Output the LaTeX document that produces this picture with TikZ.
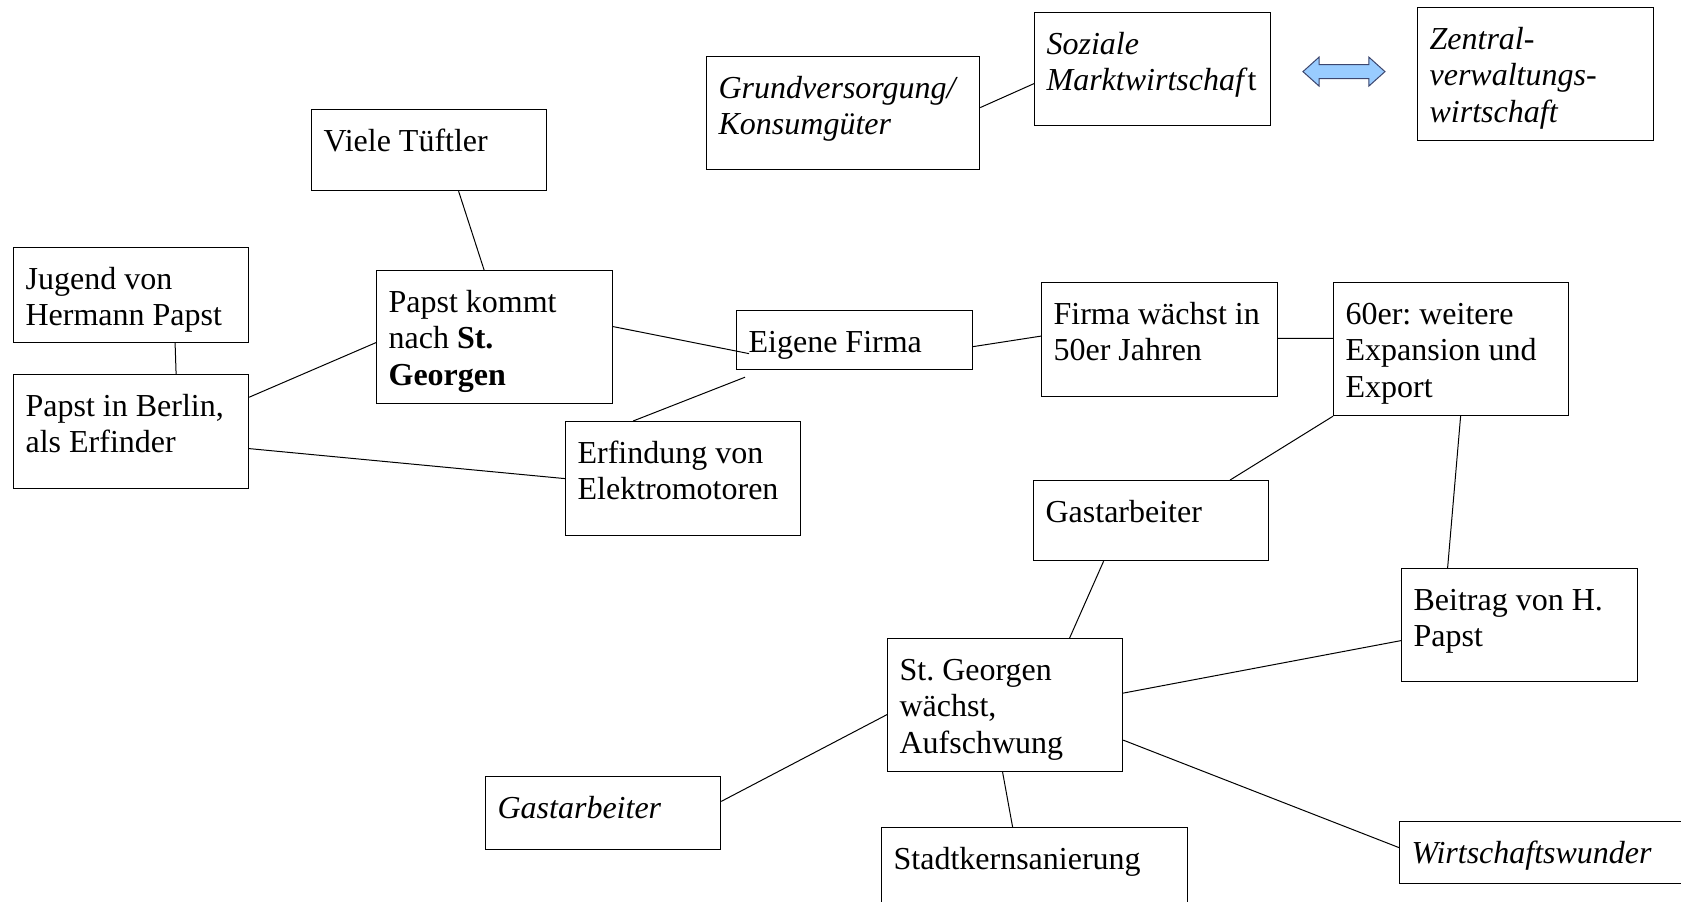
\documentclass[tikz,border=0pt]{standalone}
\usepackage{fontspec}
\setmainfont{Liberation Serif}
\usetikzlibrary{positioning,shapes.arrows}
\definecolor{arrowfill}{RGB}{153,204,255}
\definecolor{arrowline}{RGB}{60,70,110}
\frenchspacing
\newcommand{\MapBox}[3]{\parbox[t][\dimexpr#2pt-14pt\relax][t]{\dimexpr#1pt-12pt\relax}{\rule{0pt}{13.8pt}#3}}

\tikzset{
	mapbox/.style={draw, line width=0.6pt, anchor=north west, inner xsep=6pt, inner ysep=7pt, font=\fontsize{16}{18.25}\selectfont},
	link/.style={line width=0.5pt},
}

\begin{document}
\begin{tikzpicture}
	\clip (0,0) coordinate (page) rectangle (840.5pt,-450.5pt);
	\node[mapbox, below right=123.5pt and 6.5pt of page] (jugend) {\MapBox{117.5}{47.5}{Jugend von\\Hermann Papst}};
	\node[mapbox, below right=63.5pt and 0pt of jugend.north west] (berlin) {\MapBox{117.5}{57}{Papst in Berlin,\\als Erfinder}};
	\node[mapbox, below right=54.5pt and 155.5pt of page] (tueftler) {\MapBox{117.5}{40.5}{Viele Tüftler}};
	\node[mapbox, below right=80.5pt and 32.5pt of tueftler.north west] (kommt) {\MapBox{118}{66.5}{Papst kommt\\nach \textbf{St.}\\\textbf{Georgen}}};
	\node[mapbox, below right=20pt and 180pt of kommt.north west] (eigene) {\MapBox{118}{29.5}{Eigene Firma}};
	\node[mapbox, below right=75.5pt and 94.5pt of kommt.north west] (erfindung) {\MapBox{117.5}{57}{Erfindung von\\Elektromotoren}};
	\node[mapbox, below right=-14pt and 152.5pt of eigene.north west] (firma) {\MapBox{118}{57}{Firma wächst in\\50er Jahren}};
	\node[mapbox, below right=0pt and 146pt of firma.north west] (sechziger) {\MapBox{117.5}{66.5}{60er: weitere\\Expansion und\\Export}};
	\node[mapbox, below right=28pt and 353pt of page] (grund) {\MapBox{136.5}{56.5}{\textit{Grundversorgung/}\\\textit{Konsumgüter}}};
	\node[mapbox, below right=-22pt and 164pt of grund.north west] (sozial) {\MapBox{118}{56.5}{\textit{Soziale}\\\textit{Marktwirtschaf}t}};
	\node[mapbox, below right=-2.5pt and 191.5pt of sozial.north west] (zentral) {\MapBox{118}{66.5}{\textit{Zentral-}\\\textit{verwaltungs-}\\\textit{wirtschaft}}};
	\node[double arrow, draw=arrowline, fill=arrowfill, line width=0.5pt, inner xsep=0pt, inner ysep=3.25pt, minimum height=41pt, double arrow head extend=3.75pt, double arrow tip angle=84, anchor=west, right=15.5pt of sozial.east, yshift=-1.25pt] (pfeil) {};
	\node[mapbox, below right=99pt and -4pt of firma.north west] (gastA) {\MapBox{117.5}{40}{Gastarbeiter}};
	\node[mapbox, below right=143pt and 34pt of sechziger.north west] (beitrag) {\MapBox{118}{56.5}{Beitrag von H.\\Papst}};
	\node[mapbox, below right=79pt and -73pt of gastA.north west] (wachst) {\MapBox{117.5}{66.5}{St. Georgen\\wächst,\\Aufschwung}};
	\node[mapbox, below right=69pt and -201pt of wachst.north west] (gastB) {\MapBox{117.5}{36.5}{\textit{Gastarbeiter}}};
	\node[mapbox, below right=94.5pt and -3pt of wachst.north west] (stadt) {\MapBox{153}{60}{Stadtkernsanierung}};
	\node[mapbox, below right=91.5pt and 256pt of wachst.north west] (wunder) {\MapBox{150}{31}{\textit{Wirtschaftswunder}}};

	\draw[link] ([yshift=2.75pt]grund.east) -- ([yshift=-7.25pt]sozial.west)
		([xshift=14.75pt]tueftler.south) -- ([xshift=-5.25pt]kommt.north)
		([xshift=22pt]jugend.south) -- ([xshift=22.5pt]berlin.north)
		([yshift=17.2pt]berlin.east) -- ([yshift=-2.75pt]kommt.west)
		([yshift=-8.5pt]berlin.east) -- (erfindung.west)
		([yshift=5.25pt]kommt.east) -- ([xshift=6.5pt,yshift=-6.75pt]eigene.west)
		([xshift=-25pt]erfindung.north) -- ([xshift=4.5pt,yshift=-3.5pt]eigene.south west)
		([yshift=-3.25pt]eigene.east) -- ([yshift=1.75pt]firma.west)
		([yshift=0.65pt]firma.east) -- ([yshift=5.4pt]sechziger.west)
		(sechziger.south west) -- ([xshift=39.5pt]gastA.north)
		([xshift=4.75pt]sechziger.south) -- ([xshift=-36pt]beitrag.north)
		([xshift=-23.75pt]gastA.south) -- ([xshift=32.25pt]wachst.north)
		([yshift=6pt]wachst.east) -- ([yshift=-7.75pt]beitrag.west)
		([yshift=-4.75pt]wachst.west) -- ([yshift=5.85pt]gastB.east)
		([xshift=-1.25pt]wachst.south) -- ([xshift=-11pt]stadt.north)
		([yshift=-17.5pt]wachst.east) -- ([yshift=2.5pt]wunder.west);
\end{tikzpicture}
\end{document}
